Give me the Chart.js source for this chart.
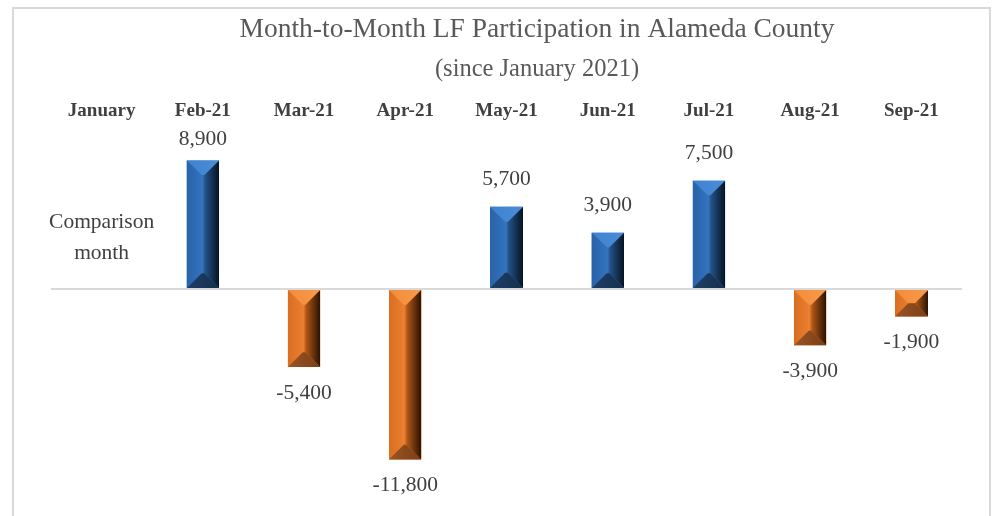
<!DOCTYPE html>
<html>
<head>
<meta charset="utf-8">
<script src="https://cdn.jsdelivr.net/npm/chart.js@4.4.1/dist/chart.umd.min.js"></script>
<style>
html,body{margin:0;padding:0;background:#fff;}
#wrap{position:relative;width:996px;height:516px;}
</style>
</head>
<body>
<div id="wrap"><canvas id="c" width="996" height="516"></canvas></div>
<script>
const TITLE = 'Month-to-Month LF Participation in Alameda County';
const SUBTITLE = '(since January 2021)';
const categories = ['January','Feb-21','Mar-21','Apr-21','May-21','Jun-21','Jul-21','Aug-21','Sep-21'];
const changes = [null, 8900, -5400, -11800, 5700, 3900, 7500, -3900, -1900];
const valueLabels = [['Comparison','month'], ['8,900'], ['-5,400'], ['-11,800'], ['5,700'], ['3,900'], ['7,500'], ['-3,900'], ['-1,900']];

const SERIF = '"Liberation Serif", "Times New Roman", serif';

const frame = {
  id: 'frame',
  beforeDraw(chart) {
    const ctx = chart.ctx;
    ctx.save();
    ctx.fillStyle = '#fff';
    ctx.fillRect(0, 0, chart.width, chart.height);
    ctx.strokeStyle = '#d9d9d9';
    ctx.lineWidth = 2;
    ctx.strokeRect(13, 8, 977, 530);
    ctx.fillStyle = '#595959';
    ctx.textAlign = 'center';
    ctx.textBaseline = 'middle';
    ctx.font = '27.5px ' + SERIF;
    ctx.fillText(TITLE, 537, 30);
    ctx.font = '24.5px ' + SERIF;
    ctx.fillText(SUBTITLE, 537, 70);
    ctx.restore();
  }
};

function bevel(ctx, x0, x1, yT, yB, pal) {
  const w = x1 - x0, h = yB - yT;
  const d = Math.min(w * 0.46, h / 2);
  const xm = (x0 + x1) / 2;
  let g = ctx.createLinearGradient(x0, 0, xm, 0);
  g.addColorStop(0, pal.l0); g.addColorStop(1, pal.l1);
  ctx.fillStyle = g;
  ctx.beginPath();
  ctx.moveTo(x0, yT); ctx.lineTo(x0 + d, yT + d); ctx.lineTo(x0 + d, yB - d); ctx.lineTo(x0, yB); ctx.closePath(); ctx.fill();
  g = ctx.createLinearGradient(x0 + d, 0, x1 - d, 0);
  g.addColorStop(0, pal.m0); g.addColorStop(1, pal.m1);
  ctx.fillStyle = g;
  ctx.fillRect(x0 + d, yT + d, Math.max(0, w - 2 * d), Math.max(0, h - 2 * d));
  g = ctx.createLinearGradient(x1 - d, 0, x1, 0);
  g.addColorStop(0, pal.r0); g.addColorStop(1, pal.r1);
  ctx.fillStyle = g;
  ctx.beginPath();
  ctx.moveTo(x1, yT); ctx.lineTo(x1 - d, yT + d); ctx.lineTo(x1 - d, yB - d); ctx.lineTo(x1, yB); ctx.closePath(); ctx.fill();
  g = ctx.createLinearGradient(x0, 0, x1, 0);
  g.addColorStop(0, pal.t0); g.addColorStop(1, pal.t1);
  ctx.fillStyle = g;
  ctx.beginPath();
  ctx.moveTo(x0, yT); ctx.lineTo(x1, yT); ctx.lineTo(x1 - d, yT + d); ctx.lineTo(x0 + d, yT + d); ctx.closePath(); ctx.fill();
  g = ctx.createLinearGradient(x0, 0, x1, 0);
  g.addColorStop(0, pal.b0); g.addColorStop(1, pal.b1);
  ctx.fillStyle = g;
  ctx.beginPath();
  ctx.moveTo(x0, yB); ctx.lineTo(x1, yB); ctx.lineTo(x1 - d, yB - d); ctx.lineTo(x0 + d, yB - d); ctx.closePath(); ctx.fill();
}

const BLUE = {l0:'#2a63a8', l1:'#3273c0', m0:'#3a7cc6', m1:'#2a5f9e', r0:'#25558e', r1:'#061322',
              t0:'#3f82d0', t1:'#4a8cd6', b0:'#1d3f66', b1:'#15304f'};
const ORANGE = {l0:'#d96e22', l1:'#ec7f30', m0:'#f08a3c', m1:'#c8641c', r0:'#b95a18', r1:'#2a1304',
                t0:'#f38c3a', t1:'#f79a4a', b0:'#9a5526', b1:'#7a3e14'};

const bevelPlugin = {
  id: 'bevel',
  afterDatasetsDraw(chart) {
    const ctx = chart.ctx;
    const meta = chart.getDatasetMeta(0);
    ctx.save();
    meta.data.forEach((el, i) => {
      const v = changes[i];
      if (v === null || v === undefined) return;
      const p = el.getProps(['x', 'y', 'base', 'width'], true);
      const x0 = Math.round(p.x - p.width / 2), x1 = Math.round(p.x + p.width / 2);
      const yT = Math.min(p.y, p.base), yB = Math.max(p.y, p.base);
      bevel(ctx, x0, x1, yT, yB, v >= 0 ? BLUE : ORANGE);
    });
    ctx.restore();
  },
  afterDraw(chart) {
    const ctx = chart.ctx;
    const meta = chart.getDatasetMeta(0);
    const ys = chart.scales.y;
    ctx.save();
    ctx.textAlign = 'center';
    ctx.textBaseline = 'middle';
    ctx.font = '21.5px ' + SERIF;
    ctx.fillStyle = '#404040';
    meta.data.forEach((el, i) => {
      const v = changes[i];
      const lines = valueLabels[i];
      const x = el.x;
      if (v === null || v === undefined) {
        const y0 = ys.getPixelForValue(4600);
        lines.forEach((t, k) => ctx.fillText(t, x, y0 + k * 31));
        return;
      }
      const y = v >= 0 ? Math.max(ys.getPixelForValue(v) - 27, 139) : ys.getPixelForValue(v) + 26;
      ctx.fillText(lines[0], x, y);
    });
    ctx.restore();
  }
};

new Chart(document.getElementById('c'), {
  type: 'bar',
  data: {
    labels: categories,
    datasets: [{
      data: changes,
      backgroundColor: changes.map(v => v >= 0 ? '#2e6cb5' : '#e47a2e'),
      borderWidth: 0,
      categoryPercentage: 1,
      barPercentage: 0.32
    }]
  },
  options: {
    responsive: false,
    animation: false,
    devicePixelRatio: 1,
    layout: { padding: { top: 92, bottom: 46, left: 51, right: 34 } },
    plugins: { legend: { display: false }, title: { display: false }, tooltip: { enabled: false } },
    scales: {
      x: {
        position: 'top',
        grid: { display: false, drawTicks: false },
        border: { display: false },
        ticks: { color: '#404040', font: { family: SERIF, size: 19, weight: 'bold' }, padding: 3, maxRotation: 0, autoSkip: false },
        afterFit(s) { s.height = 33; }
      },
      y: {
        min: -12525, max: 11350,
        ticks: { display: false },
        border: { display: false },
        grid: {
          drawTicks: false,
          lineWidth: 2,
          color: c => c.tick && c.tick.value === 0 ? '#d9d9d9' : 'rgba(0,0,0,0)'
        },
        afterFit(s) { s.width = 0; },
        afterBuildTicks(s) { s.ticks = [{ value: 0 }]; }
      }
    }
  },
  plugins: [frame, bevelPlugin]
});
</script>
</body>
</html>
